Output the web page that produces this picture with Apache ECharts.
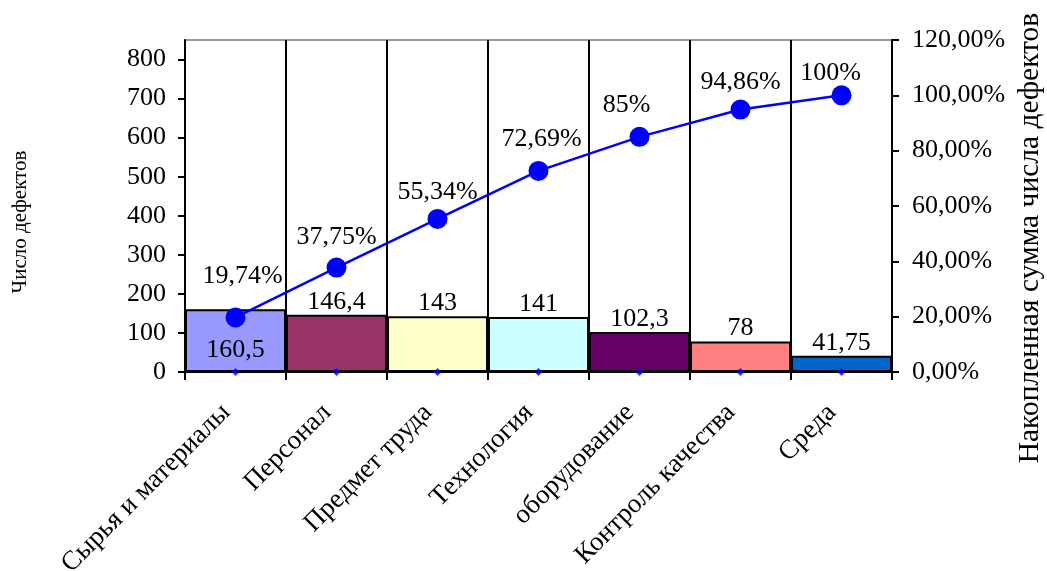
<!DOCTYPE html>
<html>
<head>
<meta charset="utf-8">
<script src="https://cdn.jsdelivr.net/npm/echarts@6/dist/echarts.min.js"></script>
<style>
  html, body { margin: 0; padding: 0; background: #fff; }
  #chart { width: 1047px; height: 571px; }
</style>
</head>
<body>
<div id="chart"></div>
<script>
// Pareto chart of defect causes
const categories = ['Сырья и материалы', 'Персонал', 'Предмет труда', 'Технология', 'оборудование', 'Контроль качества', 'Среда'];
const defectCounts = [160.5, 146.4, 143, 141, 102.3, 78, 41.75];
const cumulativePercent = [19.74, 37.75, 55.34, 72.69, 85, 94.86, 100];
const baselineMarks = [0, 0, 0, 0, 0, 0, 0];
const countTicks = [0, 100, 200, 300, 400, 500, 600, 700, 800];
const percentTicks = [0, 20, 40, 60, 80, 100, 120];

const barColors = ['#9999FF', '#993366', '#FFFFCC', '#CCFFFF', '#660066', '#FF8080', '#0066CC'];
// label offsets for the cumulative line, [dx, dy]
const lineLabelOffsets = [[7, -12], [0, -1], [0, 2], [3, -3], [-13, -3], [0, 2], [-11, 7]];

const FONT = '"Liberation Serif", "Times New Roman", serif';
const FS = 26;
const comma = (v) => String(v).replace('.', ',');

const chart = echarts.init(document.getElementById('chart'), null, { renderer: 'canvas' });

chart.setOption({
  animation: false,
  backgroundColor: '#ffffff',
  textStyle: { fontFamily: FONT, color: '#000' },
  grid: {
    left: 185, right: 155, top: 40, bottom: 199,
    containLabel: false, outerBoundsMode: 'none',
    show: true, borderColor: '#9a9a9a', borderWidth: 2, backgroundColor: 'transparent'
  },
  xAxis: {
    type: 'category',
    data: categories,
    boundaryGap: true,
    axisLine: { lineStyle: { color: '#000', width: 2 } },
    axisTick: { show: true, length: 8, lineStyle: { color: '#000', width: 2 } },
    splitLine: { show: true, lineStyle: { color: '#000', width: 2 } },
    axisLabel: {
      rotate: 45, fontSize: 27, fontFamily: FONT, color: '#000',
      margin: 46, interval: 0, verticalAlign: 'bottom'
    }
  },
  yAxis: [
    {
      type: 'value', min: 0, max: 850,
      position: 'left',
      axisLine: { show: true, lineStyle: { color: '#000', width: 2 } },
      axisTick: { show: true, length: 7, lineStyle: { color: '#000', width: 2 }, customValues: countTicks },
      axisLabel: { fontSize: FS, fontFamily: FONT, color: '#000', margin: 19, customValues: countTicks },
      splitLine: { show: false }
    },
    {
      type: 'value', min: 0, max: 120, interval: 20,
      position: 'right',
      axisLine: { show: true, lineStyle: { color: '#000', width: 2 } },
      axisTick: { show: true, length: 7, lineStyle: { color: '#000', width: 2 }, customValues: percentTicks },
      axisLabel: {
        fontSize: FS, fontFamily: FONT, color: '#000', margin: 20, customValues: percentTicks,
        formatter: (v) => v.toFixed(2).replace('.', ',') + '%'
      },
      splitLine: { show: false }
    }
  ],
  graphic: [
    {
      type: 'text',
      x: 20, y: 222, rotation: Math.PI / 2,
      style: { text: 'Число дефектов', font: '21px ' + FONT, fill: '#000', align: 'center', verticalAlign: 'middle' }
    },
    {
      type: 'text',
      x: 1030, y: 238, rotation: Math.PI / 2,
      style: { text: 'Накопленная сумма числа дефектов', font: '29.5px ' + FONT, fill: '#000', align: 'center', verticalAlign: 'middle' }
    }
  ],
  series: [
    {
      type: 'bar',
      yAxisIndex: 0,
      barCategoryGap: '0%',
      data: defectCounts.map((v, i) => ({
        value: v,
        itemStyle: { color: barColors[i] },
        label: i === 0 ? { position: 'insideBottom', distance: 9 } : {}
      })),
      itemStyle: { borderColor: '#000', borderWidth: 2 },
      label: {
        show: true, position: 'top', distance: 0,
        fontSize: FS, fontFamily: FONT, color: '#000',
        formatter: (p) => comma(p.value)
      },
      z: 2
    },
    {
      type: 'line',
      yAxisIndex: 1,
      data: cumulativePercent.map((v, i) => ({ value: v, label: { offset: lineLabelOffsets[i] } })),
      symbol: 'circle',
      symbolSize: 20,
      lineStyle: { color: '#0000FF', width: 2.5 },
      itemStyle: { color: '#0000FF' },
      label: {
        show: true, position: 'top', distance: 6,
        fontSize: FS, fontFamily: FONT, color: '#000',
        formatter: (p) => comma(p.value) + '%'
      },
      z: 4
    },
    {
      type: 'scatter',
      yAxisIndex: 0,
      data: baselineMarks,
      symbol: 'diamond',
      symbolSize: 8,
      itemStyle: { color: '#0000FF' },
      z: 5
    }
  ]
});
</script>
</body>
</html>
